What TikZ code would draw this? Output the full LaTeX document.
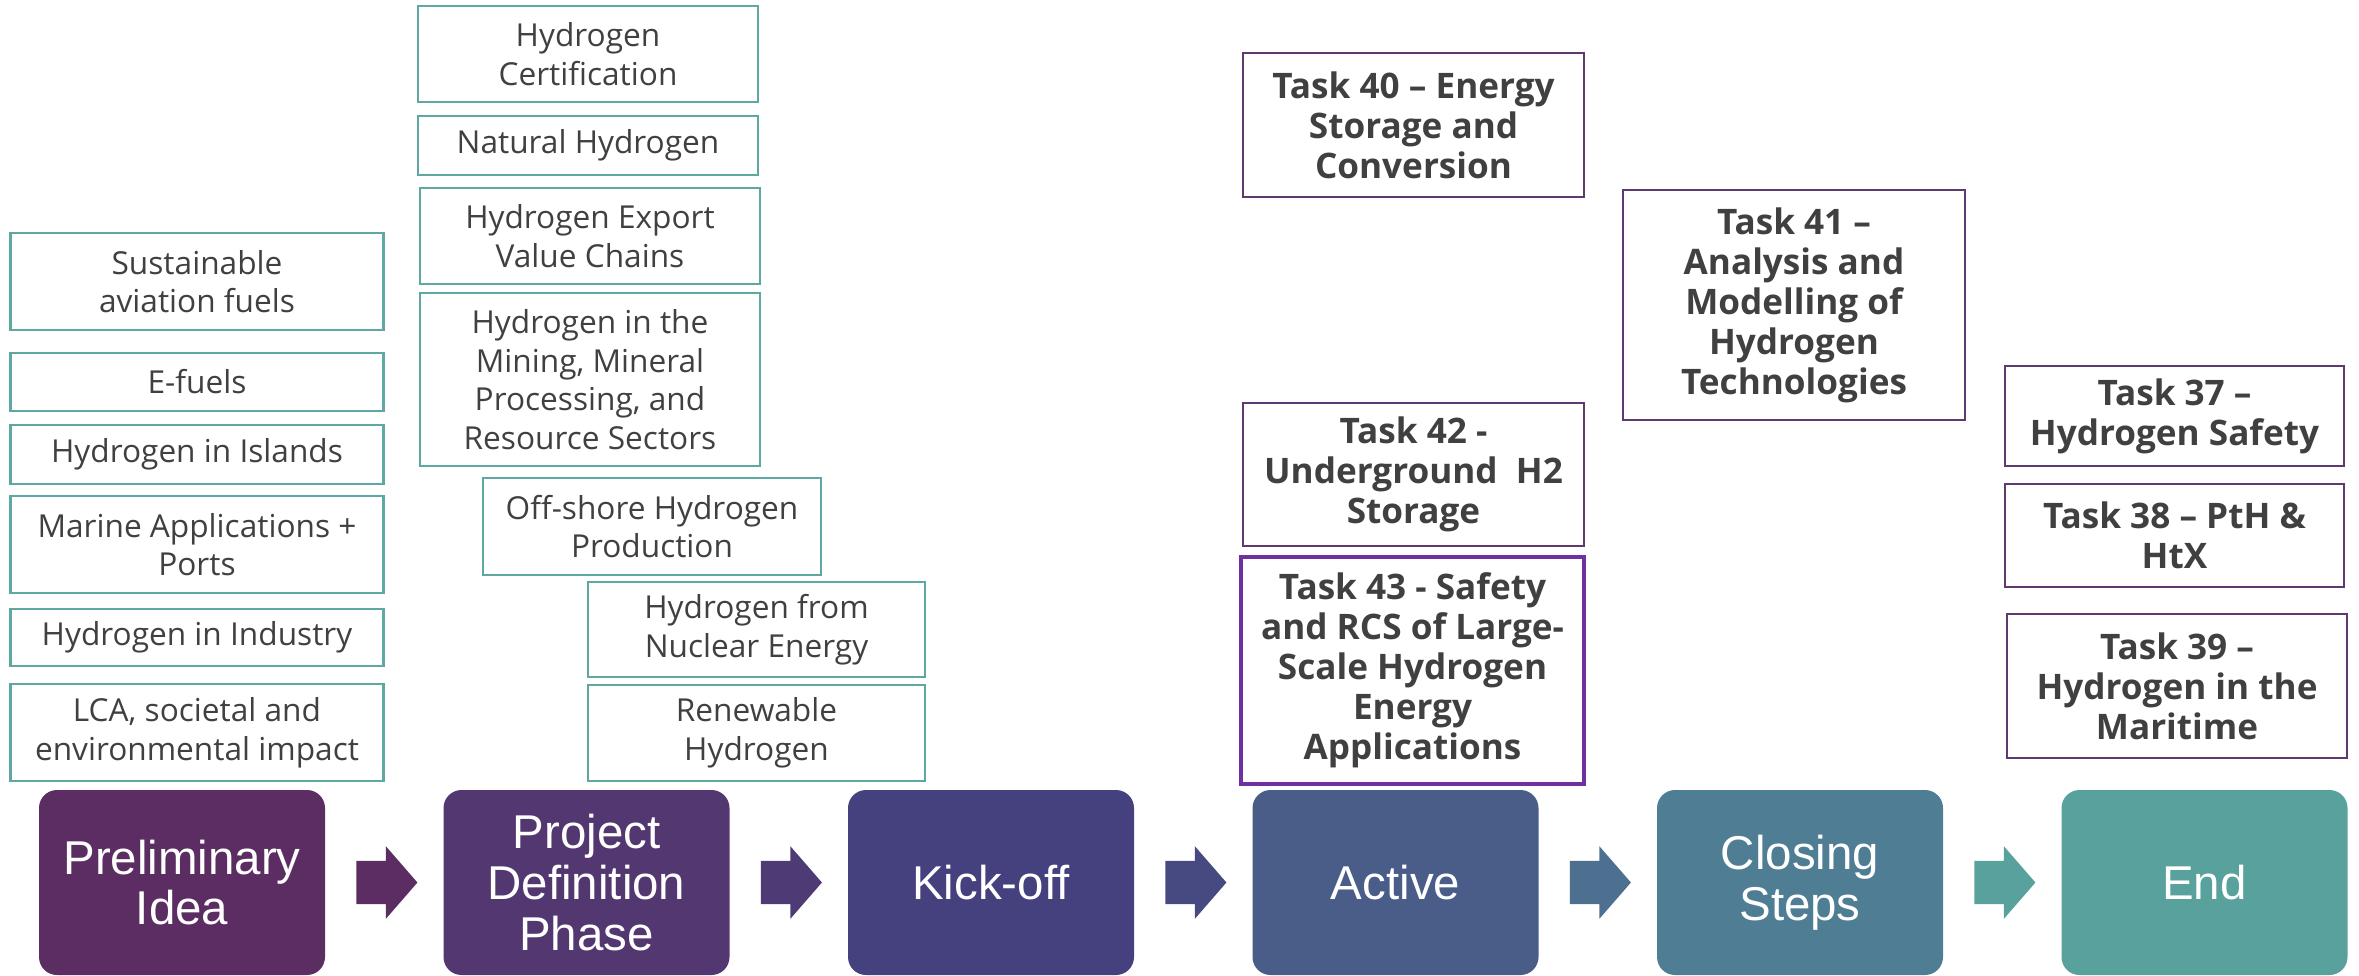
\documentclass[tikz,border=0pt]{standalone}
\usepackage{fontspec}
\setmainfont{Open Sans}
\newfontfamily\phasefont{Liberation Sans}
\usetikzlibrary{shapes.arrows, positioning, calc}
\usepackage{xcolor}

\definecolor{phaseA}{HTML}{5C2D62}
\definecolor{phaseB}{HTML}{533770}
\definecolor{phaseC}{HTML}{45407E}
\definecolor{phaseD}{HTML}{4A5C88}
\definecolor{phaseE}{HTML}{4F7D94}
\definecolor{phaseF}{HTML}{59A19C}
\definecolor{flowB}{HTML}{4E3A74}
\definecolor{flowC}{HTML}{464A80}
\definecolor{flowD}{HTML}{4D7090}
\definecolor{topicline}{HTML}{5FA7A2}
\definecolor{taskline}{HTML}{5E3A6E}
\definecolor{taskbright}{HTML}{7030A0}
\definecolor{txtgray}{HTML}{404040}

\begin{document}
\begin{tikzpicture}[
    phase/.style={rectangle, rounded corners=0.18cm, minimum width=2.86cm, minimum height=1.85cm, align=center, text=white, font=\phasefont\fontsize{13.5}{14.4}\selectfont},
    topic/.style={rectangle, draw=topicline, line width=0.6pt, align=center, text=txtgray, inner sep=1pt, font=\fontsize{9}{11}\selectfont},
    task/.style={rectangle, draw=taskline, line width=0.7pt, align=center, text=txtgray, inner sep=1pt, font=\bfseries\fontsize{10}{11.4}\selectfont},
    flow/.style={single arrow, minimum height=0.61cm, single arrow head extend=0.145cm, single arrow tip angle=98, inner sep=0pt, anchor=tail}
]
    \useasboundingbox (0,0) rectangle (23.59,-9.75);

    % Phases
    \node[phase, fill=phaseA] (p1) at (1.82, -8.825) {Preliminary\\Idea};
    \node[phase, fill=phaseB] (p2) at (5.865, -8.825) {Project\\Definition\\Phase};
    \node[phase, fill=phaseC] (p3) at (9.91, -8.825) {Kick-off};
    \node[phase, fill=phaseD] (p4) at (13.955, -8.825) {Active};
    \node[phase, fill=phaseE] (p5) at (18.0, -8.825) {Closing\\Steps};
    \node[phase, fill=phaseF] (p6) at (22.045, -8.825) {End};

    % Block arrows between phases
    \node[flow, fill=phaseA] (f1) at ($(p1.east)+(0.3,0)$) {\rule{0pt}{0.42cm}};
    \node[flow, fill=flowB] (f2) at ($(p2.east)+(0.3,0)$) {\rule{0pt}{0.42cm}};
    \node[flow, fill=flowC] (f3) at ($(p3.east)+(0.3,0)$) {\rule{0pt}{0.42cm}};
    \node[flow, fill=flowD] (f4) at ($(p4.east)+(0.3,0)$) {\rule{0pt}{0.42cm}};
    \node[flow, fill=phaseF] (f5) at ($(p5.east)+(0.3,0)$) {\rule{0pt}{0.42cm}};

    % Preliminary idea topics
    \node[topic, minimum width=3.73cm, minimum height=0.97cm] (saf) at (1.97, -2.815) {Sustainable\\aviation fuels};
    \node[topic, minimum width=3.73cm, minimum height=0.58cm] (efu) at (1.97, -3.82) {E-fuels};
    \node[topic, minimum width=3.73cm, minimum height=0.59cm] (isl) at (1.97, -4.545) {Hydrogen in Islands};
    \node[topic, minimum width=3.73cm, minimum height=0.97cm] (mar) at (1.97, -5.445) {Marine Applications +\\Ports};
    \node[topic, minimum width=3.73cm, minimum height=0.57cm] (ind) at (1.97, -6.375) {Hydrogen in Industry};
    \node[topic, minimum width=3.73cm, minimum height=0.97cm] (lca) at (1.97, -7.325) {LCA, societal and\\environmental impact};

    % Project definition topics
    \node[topic, minimum width=3.40cm, minimum height=0.96cm] (cert) at (5.88, -0.54) {Hydrogen\\Certification};
    \node[topic, minimum width=3.40cm, minimum height=0.59cm] (nat) at (5.88, -1.455) {Natural Hydrogen};
    \node[topic, minimum width=3.40cm, minimum height=0.96cm] (exp) at (5.90, -2.36) {Hydrogen Export\\Value Chains};
    \node[topic, minimum width=3.40cm, minimum height=1.73cm] (min) at (5.90, -3.795) {Hydrogen in the\\Mining, Mineral\\Processing, and\\Resource Sectors};
    \node[topic, minimum width=3.38cm, minimum height=0.97cm] (off) at (6.52, -5.265) {Off-shore Hydrogen\\Production};
    \node[topic, minimum width=3.37cm, minimum height=0.95cm] (nuc) at (7.565, -6.295) {Hydrogen from\\Nuclear Energy};
    \node[topic, minimum width=3.37cm, minimum height=0.96cm] (ren) at (7.565, -7.33) {Renewable\\Hydrogen};

    % Active tasks
    \node[task, minimum width=3.41cm, minimum height=1.44cm] (t40) at (14.135, -1.25) {Task 40 -- Energy\\Storage and\\Conversion};
    \node[task, minimum width=3.42cm, minimum height=2.30cm] (t41) at (17.94, -3.05) {Task 41 --\\Analysis and\\Modelling of\\Hydrogen\\Technologies};
    \node[task, minimum width=3.41cm, minimum height=1.43cm] (t42) at (14.135, -4.745) {Task 42 -\\Underground~\ H2\\Storage};
    \node[task, draw=taskbright, line width=0.9pt, minimum width=3.43cm, minimum height=2.27cm] (t43) at (14.125, -6.705) {Task 43 - Safety\\and RCS of Large-\\Scale Hydrogen\\Energy\\Applications};

    % Closing tasks
    \node[task, minimum width=3.39cm, minimum height=1.00cm] (t37) at (21.745, -4.16) {Task 37 --\\Hydrogen Safety};
    \node[task, minimum width=3.39cm, minimum height=1.03cm] (t38) at (21.745, -5.355) {Task 38 -- PtH \&\\HtX};
    \node[task, minimum width=3.40cm, minimum height=1.44cm] (t39) at (21.77, -6.86) {Task 39 --\\Hydrogen in the\\Maritime};
\end{tikzpicture}
\end{document}
